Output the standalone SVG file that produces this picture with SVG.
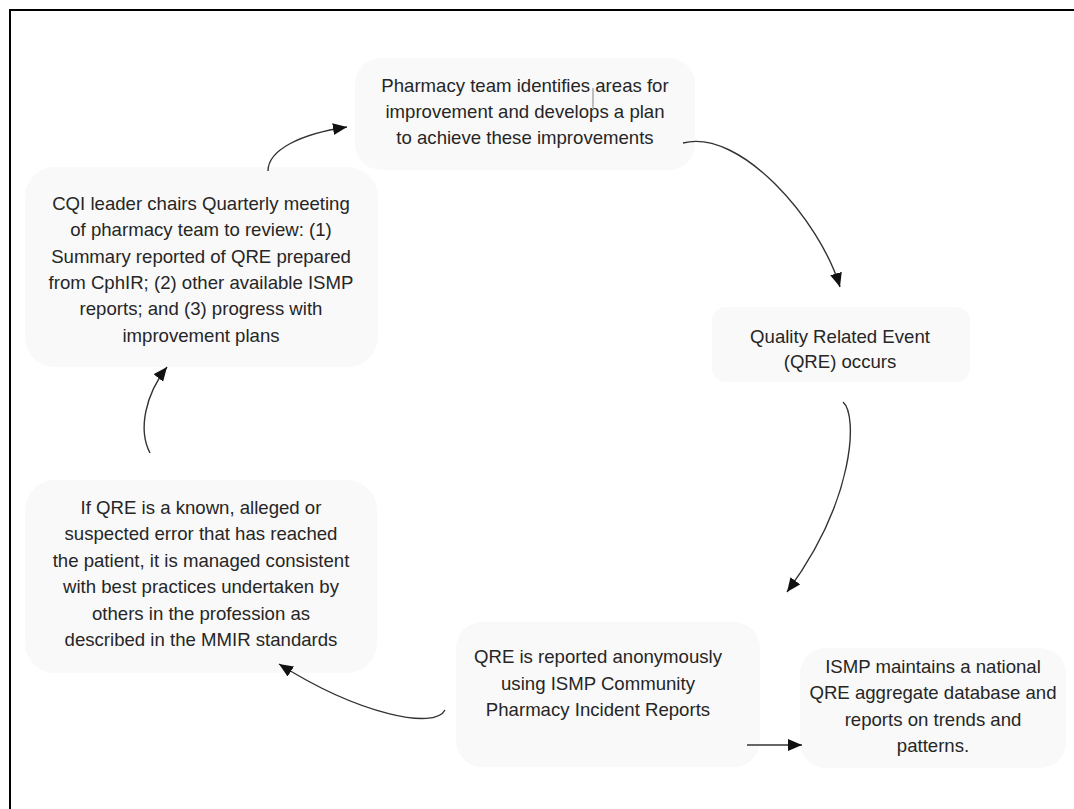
<svg xmlns="http://www.w3.org/2000/svg" width="1074" height="809" viewBox="0 0 1074 809">
<defs>
<marker id="ah" markerUnits="userSpaceOnUse" markerWidth="15" markerHeight="13" refX="14" refY="6" orient="auto">
<path d="M0,0 L14,6 L0,12 z" fill="#111"/>
</marker>
<style>
.box{fill:#f9f9f9;stroke:none}
.t{font-family:"Liberation Sans",Arial,sans-serif;font-size:18.6px;fill:#262626;text-anchor:middle}
.c{fill:none;stroke:#333;stroke-width:1.4;marker-end:url(#ah)}
</style>
</defs>
<rect x="0" y="0" width="1074" height="809" fill="#fff"/>
<rect x="10" y="10" width="1090" height="830" fill="none" stroke="#000" stroke-width="2"/>

<g id="node-plan">
<rect class="box" x="355" y="58" width="340" height="112" rx="26"/>
<text class="t" x="525" y="92">Pharmacy team identifies areas for</text>
<text class="t" x="525" y="118">improvement and develops a plan</text>
<text class="t" x="525" y="144">to achieve these improvements</text>
<line x1="593" y1="88" x2="593" y2="108" stroke="#666" stroke-width="0.8"/>
</g>

<g id="node-cqi">
<rect class="box" x="25" y="167" width="353" height="200" rx="30"/>
<text class="t" x="201" y="210">CQI leader chairs Quarterly meeting</text>
<text class="t" x="201" y="236">of pharmacy team to review: (1)</text>
<text class="t" x="201" y="263">Summary reported of QRE prepared</text>
<text class="t" x="201" y="289">from CphIR; (2) other available ISMP</text>
<text class="t" x="201" y="315">reports; and (3) progress with</text>
<text class="t" x="201" y="342">improvement plans</text>
</g>

<g id="node-qre">
<rect class="box" x="712" y="307" width="258" height="75" rx="14"/>
<text class="t" x="840" y="343">Quality Related Event</text>
<text class="t" x="840" y="368">(QRE) occurs</text>
</g>

<g id="node-ifqre">
<rect class="box" x="25" y="480" width="352" height="193" rx="30"/>
<text class="t" x="201" y="514">If QRE is a known, alleged or</text>
<text class="t" x="201" y="540">suspected error that has reached</text>
<text class="t" x="201" y="567">the patient, it is managed consistent</text>
<text class="t" x="201" y="593">with best practices undertaken by</text>
<text class="t" x="201" y="620">others in the profession as</text>
<text class="t" x="201" y="646">described in the MMIR standards</text>
</g>

<g id="node-reported">
<rect class="box" x="456" y="622" width="304" height="145" rx="26"/>
<text class="t" x="598" y="663">QRE is reported anonymously</text>
<text class="t" x="598" y="690">using ISMP Community</text>
<text class="t" x="598" y="716">Pharmacy Incident Reports</text>
</g>

<g id="node-ismp">
<rect class="box" x="800" y="648" width="266" height="120" rx="26"/>
<text class="t" x="933" y="673">ISMP maintains a national</text>
<text class="t" x="933" y="699">QRE aggregate database and</text>
<text class="t" x="933" y="726">reports on trends and</text>
<text class="t" x="933" y="752">patterns.</text>
</g>

<g id="connectors">
<path class="c" d="M268,171 C268,150 300,134 347,127"/>
<path class="c" d="M683,143 C740,128 820,220 840,287"/>
<path class="c" d="M843,402 C858,415 855,500 787,592"/>
<path class="c" d="M747,745 L802,745"/>
<path class="c" d="M445,710 C435,730 360,715 279,664"/>
<path class="c" d="M150,453 C138,430 145,395 167,367"/>
</g>
</svg>
